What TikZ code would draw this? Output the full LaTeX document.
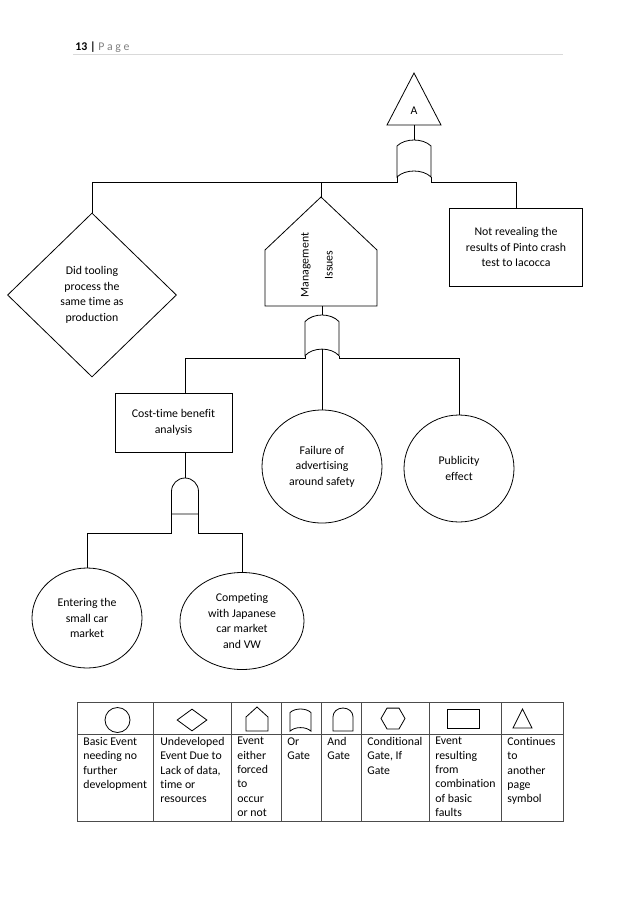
\documentclass[tikz,border=0pt]{standalone}
\usepackage{fontspec}
\setmainfont{Carlito}[Ligatures=CommonOff]
\usetikzlibrary{shapes.geometric}
\definecolor{headergray}{rgb}{0.5,0.5,0.5}
\definecolor{rulegray}{rgb}{0.85,0.85,0.85}
\definecolor{tablegray}{rgb}{0.3,0.3,0.3}

\begin{document}
\begin{tikzpicture}[
  x=1pt, y=-1pt,
  line width=0.8pt,
  event/.style={
    draw,
    align=center,
    inner sep=1pt,
    font=\fontsize{11.8}{15.5}\selectfont
  },
  basic/.style={event, ellipse},
  undeveloped/.style={event, diamond, aspect=1},
  fault/.style={event, rectangle},
  legend text/.style={
    anchor=north west,
    align=left,
    inner sep=0pt,
    font=\fontsize{11.8}{14.3}\selectfont
  },
  legend symbol/.style={
    draw,
    inner sep=0pt
  },
  or gate/.pic={
    \draw (-17,37) -- (-17,6) .. controls (-9,-2) and (9,-2) .. (17,6)
      -- (17,37) .. controls (9,29) and (-9,29) .. (-17,37) -- cycle;
    \coordinate (-top) at (0,0);
    \coordinate (-bottom) at (0,31);
    \coordinate (-left) at (-17,37);
    \coordinate (-right) at (17,37);
  },
  and gate/.pic={
    \draw (-13.5,36) -- (-13.5,13.5) .. controls (-13.5,6) and (-7.5,0) .. (0,0)
      .. controls (7.5,0) and (13.5,6) .. (13.5,13.5) -- (13.5,36) -- cycle;
    \coordinate (-top) at (0,0);
    \coordinate (-left) at (-13.5,36);
    \coordinate (-right) at (13.5,36);
  }
]

\useasboundingbox (0,0) rectangle (638,903);

% page header
\node[anchor=base west, inner sep=0pt, font=\fontsize{11.8}{14}\selectfont] (pagenum) at (75,50)
  {\textbf{13 |} \textcolor{headergray}{P a g e}};
\draw[rulegray] (73,54) -- (563,54);

% top event, continues from page symbol A
\draw (414,73) -- (387,125) -- (441,125) -- cycle;
\node[font=\fontsize{11.8}{14}\selectfont] (A) at (414,111) {A};
\coordinate (Abase) at (414,125);
\pic (g1) at (414,140) {or gate};
\coordinate (bus1) at (414,182);

\node[undeveloped, minimum width=169pt, minimum height=164pt] (dt) at (92,295)
  {Did tooling\\process the\\same time as\\production};
\node[fault, minimum width=133pt, minimum height=78pt] (nr) at (516,247)
  {Not revealing the\\results of Pinto crash\\test to Iacocca};

% management issues
\draw (265,306) -- (265,250) -- (321,197) -- (377,250) -- (377,306) -- cycle;
\coordinate (mgtop) at (321,197);
\coordinate (mgbottom) at (322,306);
\node[rotate=90, align=center, font=\fontsize{11.8}{24}\selectfont] (mg) at (317,265)
  {Management\\Issues};

\draw (Abase) -- (g1-top);
\draw (g1-left) |- (bus1 -| dt.north) -- (dt.north);
\draw (g1-right) |- (bus1 -| nr.north) -- (nr.north);
\draw (mgtop) -- (mgtop |- bus1);

% second level
\pic[yscale=1.1] (g2) at (322,315) {or gate};
\coordinate (bus2) at (322,358);

\node[fault, minimum width=117pt, minimum height=59pt] (cb) at (173.5,422.5)
  {Cost-time benefit\\analysis};
\coordinate (cbin) at ([xshift=11.5pt]cb.north);
\coordinate (cbout) at ([xshift=11.5pt]cb.south);
\node[basic, minimum width=120pt, minimum height=113pt] (fa) at (322,466.5)
  {Failure of\\advertising\\around safety};
\node[basic, minimum width=110pt, minimum height=107pt] (pe) at (459,468.5)
  {Publicity\\effect};

\draw (mgbottom) -- (g2-top);
\draw (g2-bottom) -- (fa.north);
\draw (g2-left) |- (bus2 -| cbin) -- (cbin);
\draw (g2-right) |- (bus2 -| pe.north) -- (pe.north);

% third level
\pic (and1) at (185,478) {and gate};
\coordinate (bus3) at (185,533);

\node[basic, minimum width=110pt, minimum height=100pt] (en) at (87,618)
  {Entering the\\small car\\market};
\node[basic, minimum width=124pt, minimum height=97pt] (co) at (242,621)
  {Competing\\with Japanese\\car market\\and VW};

\draw (cbout) -- (and1-top);
\draw (and1-left) |- (bus3 -| en.north) -- (en.north);
\draw (and1-right) |- (bus3 -| co.north) -- (co.north);

% legend
\draw[tablegray] (77,702) rectangle (563,821);
\draw[tablegray] (77,734) -- (563,734);
\foreach \cx in {153,231,281,321,361,429,501}
  \draw[tablegray] (\cx,702) -- (\cx,821);

\node[legend symbol, circle, minimum size=25pt] (sbasic) at (117.5,720) {};
\node[legend symbol, diamond, minimum width=30pt, minimum height=22pt] (sundev) at (192,720) {};
\draw (246,731) -- (246,717) -- (257,707) -- (268,717) -- (268,731) -- cycle;
\pic[xscale=0.62, yscale=0.6] (sor) at (300.5,709) {or gate};
\pic[xscale=0.74, yscale=0.64] (sand) at (343,708) {and gate};
\node[legend symbol, regular polygon, regular polygon sides=6, minimum size=24pt] (scond) at (393,718.5) {};
\node[legend symbol, rectangle, minimum width=32pt, minimum height=19pt] (sfault) at (463,718.5) {};
\draw (522.5,709) -- (513,728) -- (532,728) -- cycle;

\node[legend text] (t1) at (83,737) {Basic Event\\needing no\\further\\development};
\node[legend text] (t2) at (160,737) {Undeveloped\\Event Due to\\Lack of data,\\time or\\resources};
\node[legend text] (t3) at (237,737) {Event\\either\\forced\\to\\occur\\or not};
\node[legend text] (t4) at (287,737) {Or\\Gate};
\node[legend text] (t5) at (327,737) {And\\Gate};
\node[legend text] (t6) at (367,737) {Conditional\\Gate, If\\Gate};
\node[legend text] (t7) at (435,737) {Event\\resulting\\from\\combination\\of basic\\faults};
\node[legend text] (t8) at (507,737) {Continues\\to\\another\\page\\symbol};

\end{tikzpicture}
\end{document}
